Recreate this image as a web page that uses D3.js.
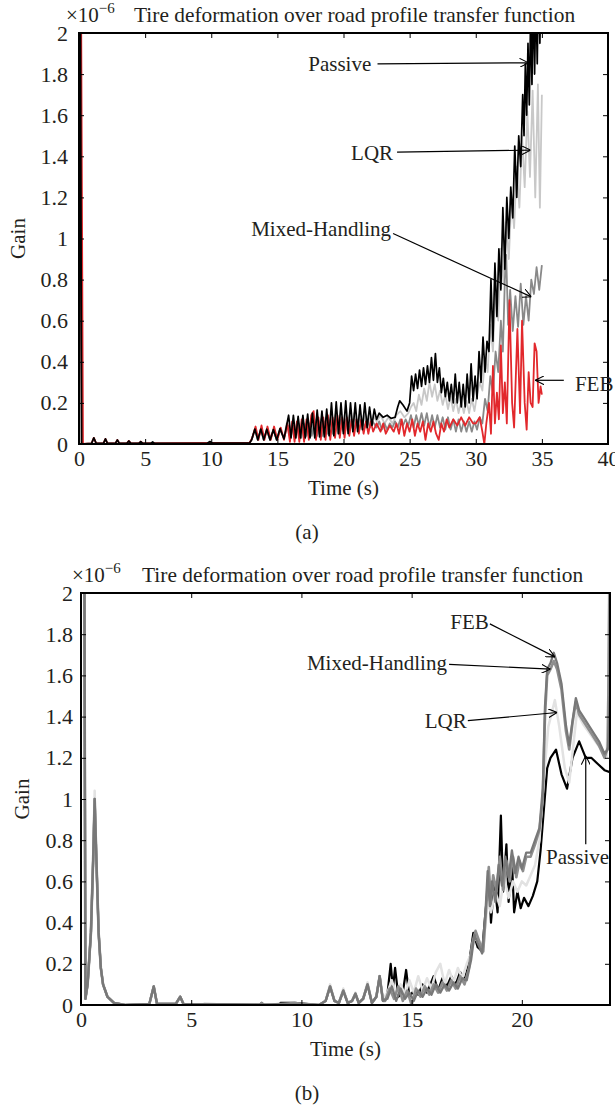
<!DOCTYPE html>
<html>
<head>
<meta charset="utf-8">
<script src="https://cdn.jsdelivr.net/npm/d3@7"></script>
<style>
  body { margin: 0; background: #fff; }
  text { font-family: "Liberation Serif", "Times New Roman", serif; fill: #231f20; }
</style>
</head>
<body>
<svg id="fig" width="615" height="1105"></svg>
<script>
// ---- tick labels ----
var yTicks = [0, 0.2, 0.4, 0.6, 0.8, 1, 1.2, 1.4, 1.6, 1.8, 2];
var xTicksA = [0, 5, 10, 15, 20, 25, 30, 35, 40];
var xTicksB = [0, 5, 10, 15, 20];

// ---- panel (a): [time s, gain x1e-6] ----
var passiveA = [[0,0],[0.1,2.3],[0.2,0],
  [0.95,0.003],[1.12,0.03],[1.3,0.003],[1.85,0.003],[2.0,0.025],[2.15,0.003],[2.75,0.003],[2.9,0.02],[3.05,0.003],
  [3.62,0.003],[3.77,0.015],[3.92,0.003],[4.52,0.003],[4.67,0.012],[4.82,0.003],[5.42,0.003],[5.57,0.01],[5.72,0.003],
  [9.7,0.004],[9.9,0.012],[10.1,0.004],[12.9,0.005],
  [13.05,0.02],[13.3,0.073],[13.52,0.02],[13.75,0.073],[13.97,0.02],[14.2,0.072],[14.45,0.02],[14.7,0.07],[14.95,0.02],[15.2,0.075],[15.5,0.025],
  [15.85,0.14],[16.03,0.03],[16.21,0.14],[16.39,0.03],[16.57,0.135],[16.75,0.03],[16.93,0.14],[17.11,0.03],[17.29,0.145],[17.47,0.03],
  [17.65,0.15],[17.83,0.03],[18.01,0.165],[18.19,0.035],[18.37,0.16],[18.55,0.035],[18.73,0.17],[18.91,0.04],[19.09,0.2],[19.27,0.04],
  [19.45,0.205],[19.63,0.05],[19.81,0.2],[19.99,0.05],[20.17,0.21],[20.35,0.05],[20.53,0.2],[20.71,0.06],[20.89,0.2],[21.07,0.06],
  [21.25,0.19],[21.43,0.07],[21.61,0.2],[21.79,0.08],[21.97,0.18],[22.15,0.09],[22.33,0.17],[22.5,0.12],
  [22.7,0.15],[23.0,0.13],[23.3,0.14],[23.6,0.125],[23.9,0.13],[24.1,0.18],[24.25,0.21],[24.5,0.19],[24.8,0.16],[25.0,0.2],
  [25.15,0.33],[25.3,0.26],[25.45,0.34],[25.6,0.27],[25.75,0.36],[25.9,0.28],[26.05,0.37],[26.2,0.29],[26.35,0.38],[26.5,0.3],
  [26.65,0.42],[26.8,0.31],[26.95,0.44],[27.1,0.3],[27.25,0.37],[27.4,0.25],[27.55,0.32],[27.7,0.23],[27.85,0.3],[28.0,0.21],
  [28.15,0.29],[28.3,0.2],[28.45,0.34],[28.6,0.2],[28.75,0.3],[28.9,0.18],[29.05,0.29],[29.2,0.18],[29.35,0.34],[29.5,0.2],
  [29.65,0.39],[29.8,0.21],[29.95,0.33],[30.1,0.22],[30.25,0.45],[30.4,0.3],[30.55,0.52],[30.7,0.35],[30.85,0.5],[31.0,0.45],
  [31.15,0.8],[31.3,0.5],[31.45,0.88],[31.6,0.62],[31.75,0.95],[31.9,0.75],[32.05,1.15],[32.2,0.85],[32.35,1.2],[32.5,1.0],
  [32.65,1.25],[32.8,1.1],[32.95,1.45],[33.1,1.2],[33.25,1.5],[33.4,1.35],[33.55,1.7],[33.65,1.5],[33.75,1.85],[33.85,1.6],
  [33.95,1.95],[34.05,1.65],[34.15,2.1],[34.25,1.75],[34.35,2.2],[34.45,1.8],[34.55,2.2],[34.65,1.85],[34.75,2.3],[34.85,1.95],
  [34.95,2.3],[35.0,2.3]];

var lqrA = [[0,0],[0.1,2.3],[0.2,0],[0.95,0.003],[1.12,0.028],[1.3,0.003],[1.85,0.003],[2.0,0.022],[2.15,0.003],[2.75,0.003],[2.9,0.018],[3.05,0.003],[12.9,0.005],
  [13.05,0.02],[13.3,0.07],[13.52,0.02],[13.75,0.07],[13.97,0.02],[14.2,0.07],[14.45,0.02],[14.7,0.068],[14.95,0.02],[15.2,0.07],[15.5,0.03],
  [15.7,0.1],[15.94,0.04],[16.12,0.1],[16.3,0.04],[16.48,0.1],[16.66,0.04],[16.84,0.11],[17.02,0.04],[17.2,0.11],[17.38,0.05],
  [17.56,0.12],[17.74,0.05],[17.92,0.12],[18.1,0.05],[18.28,0.12],[18.46,0.05],[18.64,0.13],[18.82,0.06],[19.0,0.13],[19.18,0.06],
  [19.36,0.14],[19.54,0.06],[19.72,0.14],[19.9,0.07],[20.08,0.14],[20.26,0.07],[20.44,0.14],[20.62,0.08],[20.8,0.15],[20.98,0.08],
  [21.16,0.14],[21.34,0.09],[21.52,0.14],[21.7,0.1],[21.88,0.14],[22.06,0.1],[22.24,0.14],[22.5,0.11],
  [22.8,0.14],[23.1,0.1],[23.4,0.13],[23.7,0.1],[24.0,0.14],[24.3,0.16],[24.6,0.13],[24.9,0.15],[25.1,0.18],[25.3,0.2],
  [25.5,0.16],[25.7,0.24],[25.9,0.19],[26.1,0.27],[26.3,0.21],[26.5,0.3],[26.7,0.23],[26.9,0.29],[27.1,0.21],[27.3,0.26],
  [27.5,0.19],[27.7,0.24],[27.9,0.17],[28.1,0.23],[28.3,0.16],[28.5,0.22],[28.7,0.15],[28.9,0.21],[29.1,0.15],[29.3,0.21],
  [29.5,0.15],[29.7,0.22],[29.9,0.16],[30.1,0.24],[30.3,0.3],[30.5,0.26],[30.7,0.42],[30.9,0.35],[31.1,0.58],[31.3,0.45],
  [31.5,0.75],[31.7,0.6],[31.9,0.95],[32.1,0.78],[32.3,1.08],[32.5,0.9],[32.7,1.2],[32.9,1.05],[33.1,1.35],[33.3,1.15],
  [33.5,1.5],[33.7,1.25],[33.9,1.62],[34.1,1.3],[34.3,1.72],[34.5,1.2],[34.7,1.75],[34.85,1.15],[35.0,1.7]];

var mixedA = [[0,0],[0.1,2.3],[0.2,0],[12.9,0.005],
  [13.05,0.02],[13.3,0.07],[13.52,0.02],[13.75,0.07],[13.97,0.02],[14.2,0.068],[14.45,0.02],[14.7,0.068],[14.95,0.02],[15.2,0.07],[15.5,0.03],
  [15.8,0.09],[16.0,0.03],[16.2,0.09],[16.4,0.03],[16.6,0.1],[16.8,0.03],[17.0,0.1],[17.2,0.04],[17.4,0.1],[17.6,0.04],
  [17.8,0.11],[18.0,0.04],[18.2,0.11],[18.4,0.04],[18.6,0.11],[18.8,0.05],[19.0,0.12],[19.2,0.05],[19.4,0.12],[19.6,0.05],
  [19.8,0.12],[20.0,0.06],[20.2,0.12],[20.4,0.06],[20.6,0.12],[20.8,0.07],[21.0,0.12],[21.2,0.07],[21.4,0.12],[21.6,0.08],
  [21.8,0.12],[22.0,0.08],[22.2,0.11],[22.5,0.08],
  [22.7,0.11],[22.9,0.07],[23.1,0.1],[23.3,0.07],[23.5,0.1],[23.7,0.08],[23.9,0.11],[24.1,0.08],[24.3,0.12],[24.5,0.09],
  [24.7,0.12],[24.9,0.09],[25.1,0.14],[25.3,0.08],[25.5,0.14],[25.7,0.09],[25.9,0.15],[26.1,0.09],[26.3,0.15],[26.5,0.08],
  [26.7,0.14],[26.9,0.08],[27.1,0.14],[27.3,0.08],[27.5,0.13],[27.7,0.07],[27.9,0.13],[28.1,0.07],[28.3,0.12],[28.5,0.06],
  [28.7,0.12],[28.9,0.06],[29.1,0.11],[29.3,0.06],[29.5,0.11],[29.7,0.06],[29.9,0.11],[30.1,0.07],[30.3,0.13],[30.5,0.1],
  [30.7,0.22],[30.9,0.16],[31.1,0.33],[31.3,0.25],[31.5,0.45],[31.7,0.35],[31.9,0.6],[32.05,0.45],[32.2,0.8],[32.3,0.92],
  [32.45,0.58],[32.6,0.75],[32.8,0.55],[33.0,0.72],[33.2,0.57],[33.4,0.78],[33.6,0.58],[33.8,0.72],[34.0,0.6],[34.2,0.8],
  [34.4,0.73],[34.6,0.86],[34.8,0.75],[35.0,0.87]];

var febA = [[0,0],[0.15,2.3],[0.3,0],
  [0.95,0.003],[1.12,0.03],[1.3,0.003],[1.85,0.003],[2.0,0.025],[2.15,0.003],[2.75,0.003],[2.9,0.02],[3.05,0.003],
  [3.62,0.003],[3.77,0.015],[3.92,0.003],[4.52,0.003],[4.67,0.012],[4.82,0.003],[12.9,0.006],
  [13.1,0.03],[13.35,0.085],[13.57,0.02],[13.8,0.09],[14.02,0.02],[14.25,0.085],[14.5,0.02],[14.75,0.085],[15.0,0.02],[15.25,0.08],[15.5,0.02],
  [15.75,0.1],[15.95,0.01],[16.12,0.11],[16.3,0.01],[16.48,0.11],[16.66,0.01],[16.84,0.12],[17.02,0.01],[17.2,0.12],[17.38,0.02],
  [17.56,0.14],[17.74,0.16],[17.92,0.02],[18.1,0.13],[18.28,0.02],[18.46,0.13],[18.64,0.02],[18.82,0.14],[19.0,0.02],[19.18,0.13],
  [19.36,0.03],[19.54,0.14],[19.72,0.03],[19.9,0.13],[20.08,0.03],[20.26,0.13],[20.44,0.04],[20.62,0.12],[20.8,0.04],[20.98,0.12],
  [21.16,0.05],[21.34,0.12],[21.52,0.05],[21.7,0.11],[21.88,0.05],[22.06,0.11],[22.24,0.06],[22.5,0.1],
  [22.8,0.06],[23.0,0.1],[23.2,0.05],[23.5,0.09],[23.8,0.06],[24.0,0.1],[24.2,0.05],[24.4,0.12],[24.6,0.04],[24.8,0.1],
  [25.0,0.06],[25.2,0.12],[25.4,0.04],[25.6,0.1],[25.8,0.06],[26.0,0.11],[26.2,0.02],[26.4,0.1],[26.6,0.06],[26.8,0.11],
  [27.0,0.05],[27.2,0.02],[27.4,0.1],[27.6,0.06],[27.8,0.12],[28.0,0.08],[28.3,0.12],[28.6,0.09],[28.9,0.13],[29.2,0.09],
  [29.5,0.13],[29.8,0.1],[30.0,0.1],[30.3,0.13],[30.5,0.06],[30.65,0.0],[30.8,0.1],[31.0,0.2],[31.15,0.05],[31.3,0.38],
  [31.45,0.1],[31.6,0.25],[31.75,0.12],[31.9,0.48],[32.05,0.15],[32.2,0.3],[32.35,0.1],[32.55,0.7],[32.75,0.2],[32.9,0.08],
  [33.15,0.56],[33.35,0.15],[33.5,0.6],[33.7,0.2],[33.85,0.07],[34.0,0.35],[34.15,0.2],[34.3,0.18],[34.45,0.49],[34.6,0.45],
  [34.75,0.2],[34.9,0.28],[35.0,0.24]];

// ---- panel (b) ----
var passiveB = [[0.15,2.3],[0.2,0.03],[0.3,0.1],[0.45,0.35],[0.55,0.7],[0.62,1.0],[0.7,0.7],[0.8,0.35],[0.9,0.18],[1.0,0.1],
  [1.2,0.04],[1.5,0.01],[2.0,0.0],[3.1,0.005],[3.3,0.09],[3.45,0.005],[4.3,0.005],[4.5,0.04],[4.65,0.005],[5.5,0.0],
  [8.1,0.0],[8.2,0.01],[8.3,0.0],[9.0,0.0],[9.05,0.01],[9.7,0.01],[10.8,0.0],
  [11.1,0.02],[11.3,0.09],[11.5,0.02],[11.7,0.01],[11.9,0.07],[12.1,0.01],[12.3,0.02],[12.45,0.055],[12.6,0.01],
  [12.8,0.03],[13.0,0.1],[13.2,0.01],[13.4,0.04],[13.55,0.14],[13.7,0.02],[13.9,0.05],[14.05,0.2],[14.15,0.08],[14.25,0.18],
  [14.4,0.04],[14.6,0.06],[14.75,0.17],[14.9,0.04],[15.1,0.07],[15.3,0.05],[15.5,0.1],[15.7,0.06],[16.0,0.14],[16.2,0.07],
  [16.4,0.13],[16.6,0.09],[16.8,0.14],[17.0,0.1],[17.2,0.16],[17.4,0.12],[17.6,0.2],[17.8,0.35],[18.0,0.28],[18.2,0.26],
  [18.35,0.45],[18.5,0.62],[18.6,0.4],[18.75,0.6],[18.9,0.45],[19.05,0.92],[19.15,0.55],[19.3,0.78],[19.4,0.5],[19.55,0.7],
  [19.65,0.45],[19.8,0.55],[19.95,0.47],[20.1,0.52],[20.3,0.48],[20.5,0.53],[20.7,0.6],[20.85,0.75],[21.0,0.95],[21.15,1.15],
  [21.3,1.2],[21.55,1.24],[21.8,1.12],[22.05,1.05],[22.3,1.2],[22.6,1.28],[22.9,1.2],[23.15,1.2],[23.45,1.17],[23.75,1.14],[24.0,1.13]];

var lqrB = [[0.15,2.3],[0.2,0.03],[0.3,0.1],[0.45,0.36],[0.55,0.72],[0.62,1.04],[0.7,0.7],[0.8,0.35],[0.9,0.18],[1.0,0.1],
  [1.2,0.04],[1.5,0.01],[2.0,0.0],[3.1,0.005],[3.3,0.09],[3.45,0.005],[4.3,0.005],[4.5,0.04],[4.65,0.005],[10.8,0.0],
  [11.1,0.02],[11.3,0.1],[11.5,0.02],[11.7,0.01],[11.9,0.08],[12.1,0.01],[12.3,0.02],[12.45,0.06],[12.6,0.01],[12.8,0.03],
  [13.0,0.11],[13.2,0.01],[13.4,0.04],[13.55,0.14],[13.7,0.03],[13.9,0.06],[14.1,0.12],[14.3,0.05],[14.5,0.1],[14.7,0.05],
  [14.9,0.12],[15.1,0.06],[15.3,0.14],[15.5,0.07],[15.7,0.13],[15.9,0.08],[16.1,0.16],[16.3,0.2],[16.5,0.1],[16.7,0.17],
  [16.9,0.11],[17.1,0.18],[17.3,0.13],[17.5,0.2],[17.7,0.25],[17.85,0.33],[18.05,0.3],[18.25,0.28],[18.45,0.5],[18.6,0.45],
  [18.8,0.55],[19.0,0.48],[19.2,0.62],[19.4,0.52],[19.6,0.6],[19.8,0.55],[20.0,0.6],[20.2,0.58],[20.4,0.63],[20.6,0.68],
  [20.8,0.8],[21.0,1.1],[21.2,1.35],[21.5,1.48],[21.7,1.35],[21.95,1.15],[22.15,1.08],[22.5,1.42],[22.8,1.36],[23.2,1.3],
  [23.6,1.24],[23.85,1.2],[23.92,1.5],[23.97,2.3]];

var mixedB = [[0.15,2.3],[0.2,0.03],[0.3,0.1],[0.45,0.35],[0.55,0.7],[0.62,1.0],[0.7,0.7],[0.8,0.35],[0.9,0.18],[1.0,0.1],
  [1.2,0.04],[1.5,0.01],[2.0,0.0],[3.1,0.005],[3.3,0.09],[3.45,0.005],[4.3,0.005],[4.5,0.04],[4.65,0.005],[5.5,0.0],
  [5.6,0.005],[8.1,0.0],[8.2,0.01],[8.3,0.0],[9.7,0.01],[10.8,0.0],
  [11.1,0.02],[11.3,0.09],[11.5,0.02],[11.7,0.01],[11.9,0.07],[12.1,0.01],[12.3,0.02],[12.45,0.055],[12.6,0.01],[12.8,0.03],
  [13.0,0.1],[13.2,0.01],[13.4,0.04],[13.55,0.14],[13.7,0.02],[13.8,0.02],[14.0,0.08],[14.2,0.03],[14.4,0.09],[14.6,0.02],
  [14.8,0.07],[15.0,0.0],[15.2,0.08],[15.4,0.04],[15.6,0.09],[15.8,0.05],[16.0,0.1],[16.2,0.06],[16.4,0.11],[16.6,0.07],
  [16.8,0.12],[17.0,0.08],[17.2,0.14],[17.4,0.1],[17.6,0.18],[17.75,0.3],[17.9,0.36],[18.1,0.3],[18.25,0.26],[18.4,0.5],
  [18.5,0.67],[18.6,0.5],[18.7,0.63],[18.85,0.55],[19.0,0.72],[19.15,0.56],[19.3,0.7],[19.45,0.6],[19.6,0.72],[19.75,0.62],
  [19.9,0.7],[20.05,0.65],[20.2,0.72],[20.4,0.72],[20.6,0.78],[20.8,0.85],[20.95,1.0],[21.05,1.4],[21.15,1.6],[21.3,1.63],
  [21.45,1.67],[21.6,1.63],[21.8,1.53],[22.0,1.33],[22.15,1.24],[22.3,1.37],[22.45,1.47],[22.6,1.41],[22.9,1.36],[23.2,1.31],
  [23.5,1.26],[23.75,1.2],[23.9,1.25],[24.0,2.3]];

var febB = [[0.15,2.3],[0.2,0.03],[0.3,0.1],[0.45,0.35],[0.55,0.7],[0.62,1.0],[0.7,0.7],[0.8,0.35],[0.9,0.18],[1.0,0.1],
  [1.2,0.04],[1.5,0.01],[2.0,0.0],[3.1,0.005],[3.3,0.09],[3.45,0.005],[4.3,0.005],[4.5,0.04],[4.65,0.005],[10.8,0.0],
  [11.1,0.02],[11.3,0.09],[11.5,0.02],[11.7,0.01],[11.9,0.07],[12.1,0.01],[12.3,0.02],[12.45,0.055],[12.6,0.01],[12.8,0.03],
  [13.0,0.1],[13.2,0.01],[13.4,0.04],[13.55,0.14],[13.7,0.02],[13.9,0.03],[14.1,0.09],[14.3,0.02],[14.5,0.08],[14.7,0.03],
  [14.9,0.06],[15.1,0.02],[15.3,0.07],[15.5,0.04],[15.7,0.08],[15.9,0.05],[16.1,0.1],[16.3,0.06],[16.5,0.1],[16.7,0.07],
  [16.9,0.11],[17.1,0.08],[17.3,0.13],[17.5,0.12],[17.7,0.22],[17.85,0.34],[18.0,0.3],[18.2,0.25],[18.35,0.45],[18.45,0.65],
  [18.55,0.48],[18.65,0.6],[18.8,0.5],[18.95,0.68],[19.1,0.58],[19.25,0.72],[19.4,0.62],[19.55,0.75],[19.7,0.64],[19.85,0.72],
  [20.0,0.66],[20.2,0.74],[20.4,0.74],[20.6,0.8],[20.8,0.86],[20.95,1.05],[21.05,1.45],[21.15,1.63],[21.3,1.66],[21.45,1.71],
  [21.6,1.66],[21.8,1.56],[22.0,1.36],[22.15,1.26],[22.3,1.38],[22.45,1.49],[22.6,1.43],[22.9,1.38],[23.2,1.33],[23.5,1.28],
  [23.75,1.22],[23.9,1.24],[24.0,1.5]];

var svg = d3.select("#fig");
var arrowId = "arrowhead";
svg.append("defs").append("marker")
    .attr("id", arrowId)
    .attr("viewBox", "0 -5 10 10")
    .attr("refX", 10).attr("refY", 0)
    .attr("markerWidth", 9).attr("markerHeight", 9)
    .attr("markerUnits", "userSpaceOnUse")
    .attr("orient", "auto")
  .append("path")
    .attr("d", "M0,-5L10,0L0,5")
    .attr("fill", "none")
    .attr("stroke", "#000")
    .attr("stroke-width", 1.2);

function drawPanel(cfg) {
    var x = d3.scaleLinear().domain(cfg.xDomain).range([cfg.left, cfg.right]);
    var y = d3.scaleLinear().domain([0, 2]).range([cfg.bottom, cfg.top]);
    var g = svg.append("g");

    g.append("clipPath").attr("id", "clip" + cfg.id)
      .append("rect")
        .attr("x", cfg.left).attr("y", cfg.top)
        .attr("width", cfg.right - cfg.left)
        .attr("height", cfg.bottom - cfg.top);

    var line = d3.line()
        .x(function(d) { return x(d[0]); })
        .y(function(d) { return y(d[1]); });

    var plot = g.append("g").attr("clip-path", "url(#clip" + cfg.id + ")");
    cfg.series.forEach(function(s) {
        plot.append("path")
            .datum(s.values)
            .attr("d", line)
            .attr("fill", "none")
            .attr("stroke", s.color)
            .attr("stroke-width", s.width)
            .attr("stroke-linejoin", "round");
    });

    // axes, ticks pointing inward
    var fmt = function(d) { return String(d); };
    var bottomAxis = g.append("g")
        .attr("transform", "translate(0," + cfg.bottom + ")")
        .call(d3.axisBottom(x).tickValues(cfg.xTicks).tickSize(-5).tickPadding(6).tickFormat(fmt));
    var topAxis = g.append("g")
        .attr("transform", "translate(0," + cfg.top + ")")
        .call(d3.axisTop(x).tickValues(cfg.xTicks).tickSize(-5).tickFormat(""));
    var leftAxis = g.append("g")
        .attr("transform", "translate(" + cfg.left + ",0)")
        .call(d3.axisLeft(y).tickValues(yTicks).tickSize(-5).tickPadding(cfg.yPad).tickFormat(fmt));
    var rightAxis = g.append("g")
        .attr("transform", "translate(" + cfg.right + ",0)")
        .call(d3.axisRight(y).tickValues(yTicks).tickSize(-5).tickFormat(""));

    [bottomAxis, topAxis, leftAxis, rightAxis].forEach(function(a) {
        a.select(".domain").remove();
        a.attr("font-family", null).attr("font-size", 22);
        a.selectAll(".tick line").attr("stroke", "#000").attr("stroke-width", 1);
    });

    g.append("rect")
        .attr("x", cfg.left).attr("y", cfg.top)
        .attr("width", cfg.right - cfg.left)
        .attr("height", cfg.bottom - cfg.top)
        .attr("fill", "none")
        .attr("stroke", "#000")
        .attr("stroke-width", 2);

    // title with exponent
    var ex = g.append("text")
        .attr("x", cfg.expX).attr("y", cfg.top - 11)
        .attr("font-size", 21);
    ex.append("tspan").text("\u00d710");
    ex.append("tspan").attr("dy", -9).attr("font-size", 15).text("\u22126");
    g.append("text")
        .attr("x", cfg.titleX).attr("y", cfg.top - 11)
        .attr("font-size", 21.4)
        .text("Tire deformation over road profile transfer function");

    g.append("text")
        .attr("transform", "translate(" + cfg.gainX + "," + y(1) + ") rotate(-90)")
        .attr("text-anchor", "middle")
        .attr("dy", "0.35em")
        .attr("font-size", 21)
        .text("Gain");

    g.append("text")
        .attr("x", (cfg.left + cfg.right) / 2).attr("y", cfg.bottom + 51)
        .attr("text-anchor", "middle")
        .attr("font-size", 21)
        .text("Time (s)");

    g.append("text")
        .attr("x", 307).attr("y", cfg.bottom + 95)
        .attr("text-anchor", "middle")
        .attr("font-size", 21)
        .text(cfg.caption);

    // annotations in data units
    cfg.notes.forEach(function(n) {
        g.append("text")
            .attr("x", x(n.tx)).attr("y", y(n.tv))
            .attr("dy", "0.35em")
            .attr("text-anchor", n.anchor)
            .attr("font-size", 21)
            .text(n.label);
        g.append("line")
            .attr("x1", x(n.from[0])).attr("y1", y(n.from[1]))
            .attr("x2", x(n.to[0])).attr("y2", y(n.to[1]))
            .attr("stroke", "#000")
            .attr("stroke-width", 1.2)
            .attr("marker-end", "url(#" + arrowId + ")");
    });
}

drawPanel({
    id: "a", left: 79, right: 608, top: 33, bottom: 444,
    xDomain: [0, 40], xTicks: xTicksA, yPad: 11,
    expX: 66, titleX: 134, gainX: 18, caption: "(a)",
    series: [
        { values: lqrA, color: "#c8c8c8", width: 1.8 },
        { values: mixedA, color: "#898989", width: 1.8 },
        { values: febA, color: "#e2282c", width: 1.8 },
        { values: passiveA, color: "#000000", width: 1.7 }
    ],
    notes: [
        { label: "Passive", tx: 22.1, tv: 1.853, anchor: "end", from: [22.57, 1.85], to: [33.99, 1.855] },
        { label: "LQR", tx: 23.75, tv: 1.42, anchor: "end", from: [24.05, 1.42], to: [34.14, 1.43] },
        { label: "Mixed-Handling", tx: 23.6, tv: 1.05, anchor: "end", from: [23.75, 1.024], to: [34.2, 0.716] },
        { label: "FEB", tx: 37.5, tv: 0.295, anchor: "start", from: [36.66, 0.31], to: [34.5, 0.31] }
    ]
});

drawPanel({
    id: "b", left: 81, right: 610, top: 593, bottom: 1005,
    xDomain: [0, 24], xTicks: xTicksB, yPad: 8,
    expX: 72, titleX: 142, gainX: 22, caption: "(b)",
    series: [
        { values: passiveB, color: "#000000", width: 2.2 },
        { values: lqrB, color: "#e2e2e2", width: 2.5 },
        { values: mixedB, color: "#8e8e8e", width: 2.6 },
        { values: febB, color: "#787878", width: 2.3 }
    ],
    notes: [
        { label: "FEB", tx: 18.5, tv: 1.86, anchor: "end", from: [18.55, 1.85], to: [21.5, 1.69] },
        { label: "Mixed-Handling", tx: 16.6, tv: 1.66, anchor: "end", from: [16.7, 1.654], to: [21.3, 1.63] },
        { label: "LQR", tx: 17.5, tv: 1.38, anchor: "end", from: [17.55, 1.38], to: [21.6, 1.42] },
        { label: "Passive", tx: 22.53, tv: 0.72, anchor: "middle", from: [22.9, 0.78], to: [22.9, 1.21] }
    ]
});
</script>
</body>
</html>
